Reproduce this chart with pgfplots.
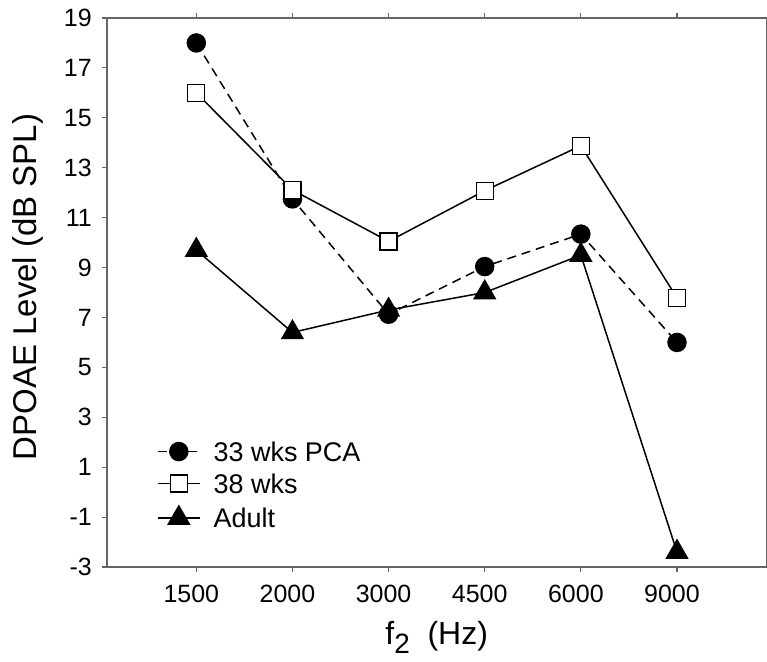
\documentclass[border=0pt]{standalone}
\usepackage{fontspec}
\setmainfont{Liberation Sans}
\usepackage{pgfplots}
\pgfplotsset{compat=1.18}
\begin{document}
\begin{tikzpicture}
\begin{axis}[
  scale only axis, width=660pt, height=549.5pt,
  xmin=-0.93, xmax=5.93, ymin=-3, ymax=19,
  xtick={0,...,5}, xticklabels={1500,2000,3000,4500,6000,9000},
  ytick={-3,-1,...,19}, yticklabels={-3,-1,1,3,5,7,9,11,13,15,17,19},
  xtick pos=both, ytick pos=left, tick align=outside,
  major tick length=5pt,
  axis line style={draw=black!60, line width=1.2pt},
  tick style={draw=black!60, line width=1.2pt},
  ticklabel style={font=\fontsize{25}{30}\selectfont, inner sep=0pt},
  xticklabel style={anchor=base, yshift=-30.5pt, xshift=-5pt},
  yticklabel style={anchor=east, xshift=-10pt},
  xlabel={f\raisebox{-9pt}{\fontsize{28}{28}\selectfont 2}\ \ (Hz)},
  ylabel={DPOAE Level (dB SPL)},
  xlabel style={font=\fontsize{32}{36}\selectfont, at={(axis description cs:0.5,-0.141)}, anchor=base},
  ylabel style={font=\fontsize{33}{38}\selectfont, at={(axis description cs:-0.12,0.51)}, anchor=center, rotate=0},
  legend style={at={(0.0758,0.228)}, anchor=north west, draw=none, fill=none,
    inner sep=0pt, row sep=13pt, column sep=13pt,
    font=\fontsize{27}{30}\selectfont, nodes={inner sep=0pt, text height=19pt, text depth=0pt}},
  legend cell align=left,
  legend image code/.code={\draw[mark repeat=2,mark phase=2] plot coordinates {(0pt,0pt) (21pt,0pt) (42pt,0pt)};},
]
\addplot[black, line width=1.5pt, dash pattern=on 9pt off 6pt, mark=*, mark size=9pt, mark options={solid, fill=black}]
  coordinates {(0,18.0) (1,11.75) (2,7.13) (3,9.04) (4,10.34) (5,6.0)};
\addlegendentry{33 wks PCA}
\addplot[black, line width=1.5pt, mark=square*, mark size=8.5pt, mark options={solid, fill=white, line width=1.3pt}]
  coordinates {(0,16.0) (1,12.11) (2,10.05) (3,12.08) (4,13.88) (5,7.79)};
\addlegendentry{38 wks}
\addplot[black, line width=1.5pt, mark=triangle*, mark size=12pt, mark options={solid, fill=black}]
  coordinates {(0,9.7) (1,6.4) (2,7.3) (3,8.0) (4,9.5) (5,-2.4)};
\addlegendentry{Adult}
\end{axis}
\pgfresetboundingbox
\path (-107pt,-94.5pt) rectangle (660.6pt,567.5pt);
\end{tikzpicture}
\end{document}
